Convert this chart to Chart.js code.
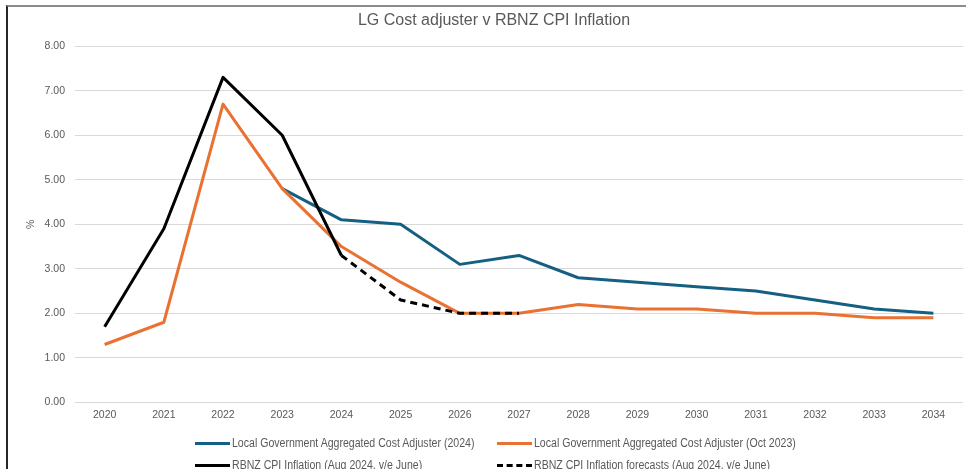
<!DOCTYPE html>
<html>
<head>
<meta charset="utf-8">
<script src="https://cdn.jsdelivr.net/npm/chart.js@4"></script>
<style>
  html, body { margin: 0; padding: 0; background: #fff; overflow: hidden; width: 966px; height: 469px; }
  #frame { position: absolute; left: 6px; top: 5px; width: 990px; height: 470px;
           border-top: 2px solid #8c8c8c; border-left: 2px solid #262626; }
  #wrap { position: absolute; left: 0; top: 0; width: 982px; height: 462px; }
  #legend { position: absolute; left: 0; top: 0; width: 966px; height: 469px; pointer-events: none;
            font-family: 'Liberation Sans', Arial, sans-serif; font-size: 12px; color: #595959; }
  .item { position: absolute; display: flex; align-items: center; white-space: nowrap; height: 16px; }
  .swatch { width: 35px; height: 0; border-top: 3px solid; margin-right: 2px; }
  .txt { display: inline-block; transform: scaleX(0.88); transform-origin: left center; }
</style>
</head>
<body>
<div id="frame"><div id="wrap"><canvas id="myChart"></canvas></div></div>
<div id="legend"></div>
<script>
// categories and series
var years = ['2020','2021','2022','2023','2024','2025','2026','2027','2028','2029','2030','2031','2032','2033','2034'];
var lgca2024 = [null, null, null, 4.8, 4.1, 4.0, 3.1, 3.3, 2.8, 2.7, 2.6, 2.5, 2.3, 2.1, 2.0];
var lgcaOct2023 = [1.3, 1.8, 6.7, 4.8, 3.5, 2.7, 2.0, 2.0, 2.2, 2.1, 2.1, 2.0, 2.0, 1.9, 1.9];
var cpiActual = [1.7, 3.9, 7.3, 6.0, 3.3, null, null, null, null, null, null, null, null, null, null];
var cpiForecast = [null, null, null, null, 3.3, 2.3, 2.0, 2.0, null, null, null, null, null, null, null];
var seriesNames = [
    'Local Government Aggregated Cost Adjuster (2024)',
    'Local Government Aggregated Cost Adjuster (Oct 2023)',
    'RBNZ CPI Inflation (Aug 2024, y/e June)',
    'RBNZ CPI Inflation forecasts (Aug 2024, y/e June)'
];
var yTicks = [0, 1, 2, 3, 4, 5, 6, 7, 8];

var grey = '#595959';
var tickFont = { family: "'Liberation Sans', Arial, sans-serif", size: 10.5 };

const ctx = document.getElementById('myChart');
const myChart = new Chart(ctx, {
    type: 'line',
    data: {
        labels: years,
        datasets: [{
            label: seriesNames[0],
            data: lgca2024,
            borderColor: '#156082',
            borderWidth: 3,
            order: 4
        }, {
            label: seriesNames[1],
            data: lgcaOct2023,
            borderColor: '#E97132',
            borderWidth: 3,
            order: 3
        }, {
            label: seriesNames[2],
            data: cpiActual,
            borderColor: '#000000',
            borderWidth: 3,
            order: 2
        }, {
            label: seriesNames[3],
            data: cpiForecast,
            borderColor: '#000000',
            borderWidth: 3,
            borderDash: [7, 5],
            order: 1
        }]
    },
    options: {
        responsive: true,
        maintainAspectRatio: false,
        animation: false,
        spanGaps: false,
        elements: {
            point: { radius: 0 },
            line: { tension: 0, borderCapStyle: 'butt', borderJoinStyle: 'round' }
        },
        layout: { padding: { left: 17, right: 27, top: 0, bottom: 42 } },
        plugins: {
            legend: { display: false },
            tooltip: { enabled: false },
            title: {
                display: true,
                text: 'LG Cost adjuster v RBNZ CPI Inflation',
                color: grey,
                font: { family: "'Liberation Sans', Arial, sans-serif", size: 16, weight: 'normal' },
                padding: { top: 4, bottom: 16 }
            }
        },
        scales: {
            x: {
                offset: true,
                grid: { display: false, drawTicks: false },
                border: { display: false },
                ticks: { color: grey, font: tickFont, padding: 6, maxRotation: 0 }
            },
            y: {
                min: 0,
                max: 8,
                afterBuildTicks: function(axis) { axis.ticks = yTicks.map(v => ({ value: v })); },
                grid: { color: '#d9d9d9', lineWidth: 1, drawTicks: false },
                border: { display: false },
                ticks: {
                    color: grey, font: tickFont, padding: 10,
                    callback: function(v) { return Number(v).toFixed(2); }
                },
                title: { display: true, text: '%', color: grey, font: tickFont, padding: { top: 0, bottom: -3 } }
            }
        }
    }
});

// legend laid out as two columns like the original
var legendPos = [[195, 443], [497, 443], [195, 465], [497, 465]];
var legendEl = document.getElementById('legend');
myChart.data.datasets.forEach(function(ds, i) {
    var item = document.createElement('div');
    item.className = 'item';
    item.style.left = legendPos[i][0] + 'px';
    item.style.top = (legendPos[i][1] - 8) + 'px';
    var sw = document.createElement('span');
    sw.className = 'swatch';
    sw.style.borderTopColor = ds.borderColor;
    if (ds.borderDash) sw.style.borderTopStyle = 'dashed';
    var txt = document.createElement('span');
    txt.className = 'txt';
    txt.textContent = ds.label;
    item.appendChild(sw);
    item.appendChild(txt);
    legendEl.appendChild(item);
});
</script>
</body>
</html>
